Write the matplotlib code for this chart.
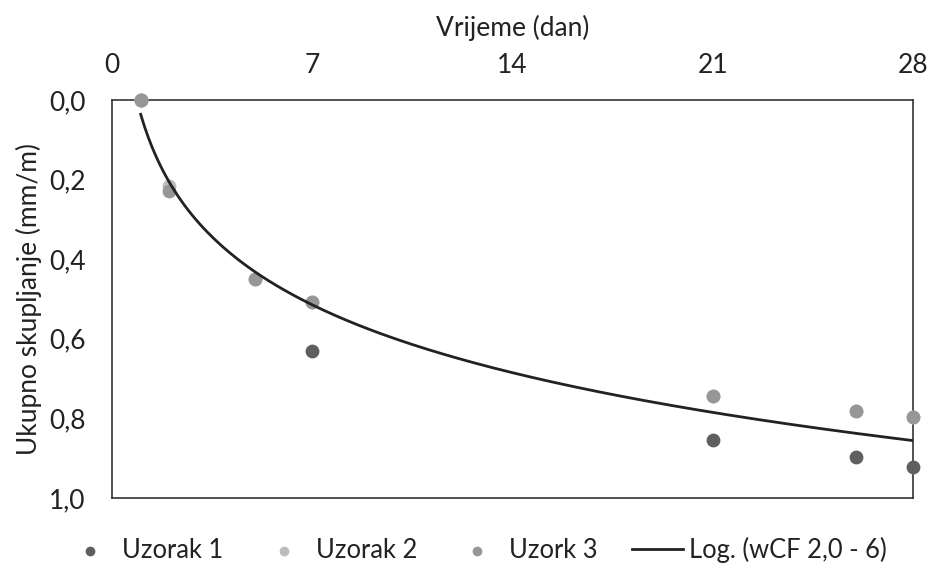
import matplotlib.pyplot as plt
import numpy as np
from matplotlib.ticker import FuncFormatter

plt.rcParams['font.family'] = ['Lato', 'DejaVu Sans']

# mjerenja skupljanja po danima
dani_1 = [1, 7, 21, 26, 28]
uzorak_1 = [0.0, 0.63, 0.854, 0.897, 0.922]

dani_2 = [1, 2, 5, 7, 21, 26, 28]
uzorak_2 = [0.0, 0.216, 0.45, 0.507, 0.744, 0.781, 0.797]

dani_3 = [1, 2, 5, 7, 21, 26, 28]
uzorak_3 = [0.0, 0.229, 0.45, 0.507, 0.744, 0.781, 0.797]

# log. trend y = a*ln(x) + b
trend_a = 0.246
trend_b = 0.036

x_ticks = [0, 7, 14, 21, 28]
y_ticks = [0.0, 0.2, 0.4, 0.6, 0.8, 1.0]

fs = 19
txt = '#222222'

fig = plt.figure(figsize=(9.34, 5.74), dpi=100)
ax = fig.add_axes([0.12, 0.1324, 0.8575, 0.6934])

ax.scatter(dani_1, uzorak_1, s=80, color='#5f5f5f', label='Uzorak 1', zorder=3, clip_on=False)
ax.scatter(dani_2, uzorak_2, s=80, color='#bdbdbd', label='Uzorak 2', zorder=3, clip_on=False)
ax.scatter(dani_3, uzorak_3, s=80, color='#979797', label='Uzork 3', zorder=3, clip_on=False)

xt = np.linspace(1, 28, 200)
ax.plot(xt, trend_a * np.log(xt) + trend_b, color='#222222', lw=2.0,
        label='Log. (wCF 2,0 - 6)', zorder=4)

ax.set_xlim(0, 28)
ax.set_ylim(1.0, 0.0)
ax.set_xticks(x_ticks)
ax.set_yticks(y_ticks)
ax.yaxis.set_major_formatter(FuncFormatter(lambda v, p: f'{v:.1f}'.replace('.', ',')))
ax.xaxis.tick_top()
ax.xaxis.set_label_position('top')
ax.tick_params(length=0, labelsize=fs, colors=txt)
ax.tick_params(axis='x', pad=16)
ax.tick_params(axis='y', pad=19)
ax.set_xlabel('Vrijeme (dan)', fontsize=fs, color=txt, labelpad=12)
ax.set_ylabel('Ukupno skupljanje (mm/m)', fontsize=fs, color=txt, labelpad=5)
for s in ax.spines.values():
    s.set_color('#333333')
    s.set_linewidth(1.2)

leg = fig.legend(loc='center', bbox_to_anchor=(476 / 934, 0.042), ncol=4, frameon=False,
                 fontsize=18.4, markerscale=0.67, handlelength=2.0, columnspacing=1.35,
                 handletextpad=0.25)
for t in leg.get_texts():
    t.set_color(txt)

fig.savefig('out.png', dpi=100)
